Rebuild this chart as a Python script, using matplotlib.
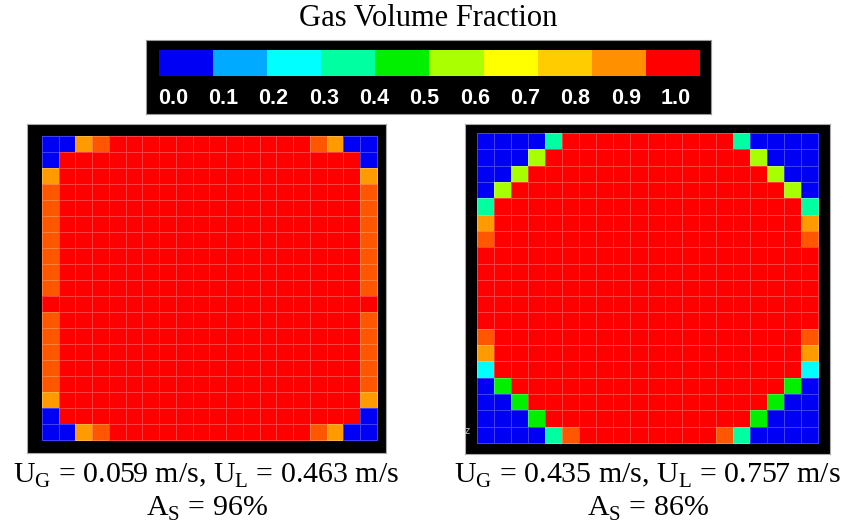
import matplotlib
matplotlib.use("Agg")
import matplotlib.pyplot as plt
import numpy as np
from matplotlib.colors import ListedColormap, LinearSegmentedColormap

plt.rcParams['font.family'] = 'Liberation Serif'
plt.rcParams['mathtext.fontset'] = 'custom'
plt.rcParams['mathtext.rm'] = 'Liberation Serif'

# colour legend (10 bands)
bar_colors = ['#0000f5', '#00aaff', '#00ffff', '#00ffa0', '#00f000',
              '#aaff00', '#ffff00', '#ffcc00', '#ff9000', '#ff0000']
bar_ticks = ['0.0', '0.1', '0.2', '0.3', '0.4', '0.5',
             '0.6', '0.7', '0.8', '0.9', '1.0']

# gas fraction (codes -> value)
code_value = {'B': 0.03, 'C': 0.25, 'T': 0.35, 'G': 0.45, 'L': 0.55,
              'Y': 0.83, 'O': 0.89, 'R': 1.0}

left_rows = (['BBYO' + 'R' * 12 + 'OYBB',
              'B' + 'R' * 18 + 'B',
              'Y' + 'R' * 18 + 'Y']
             + ['O' + 'R' * 18 + 'O'] * 7
             + ['R' * 20]
             + ['O' + 'R' * 18 + 'O'] * 5
             + ['Y' + 'R' * 18 + 'Y',
                'B' + 'R' * 18 + 'B',
                'BBYO' + 'R' * 12 + 'OYBB'])

right_rows = (['BBBBT' + 'R' * 10 + 'TBBBB',
               'BBBL' + 'R' * 12 + 'LBBB',
               'BBL' + 'R' * 14 + 'LBB',
               'BL' + 'R' * 16 + 'LB',
               'T' + 'R' * 18 + 'T',
               'Y' + 'R' * 18 + 'Y',
               'O' + 'R' * 18 + 'O']
              + ['R' * 20] * 5
              + ['O' + 'R' * 18 + 'O',
                 'Y' + 'R' * 18 + 'Y',
                 'C' + 'R' * 18 + 'C',
                 'BG' + 'R' * 16 + 'GB',
                 'BBG' + 'R' * 14 + 'GBB',
                 'BBBG' + 'R' * 12 + 'GBBB',
                 'BBBBTO' + 'R' * 8 + 'OTBBBB'])

left_label = [r"U$_{\mathrm{G}}$ = 0.059 m/s, U$_{\mathrm{L}}$ = 0.463 m/s",
              r"A$_{\mathrm{S}}$ = 96%"]
right_label = [r"U$_{\mathrm{G}}$ = 0.435 m/s, U$_{\mathrm{L}}$ = 0.757 m/s",
               r"A$_{\mathrm{S}}$ = 86%"]


def to_grid(rows):
    return np.array([[code_value[c] for c in r] for r in rows])


# continuous version of the legend colours for the cells
nodes = [0.0] + list(np.arange(10) * 0.1 + 0.05) + [1.0]
node_cols = [bar_colors[0]] + bar_colors + [bar_colors[-1]]
cell_cmap = LinearSegmentedColormap.from_list('gvf', list(zip(nodes, node_cols)))

W, H = 845, 524
fig = plt.figure(figsize=(W / 100, H / 100), dpi=100)


def px_axes(x0, y0, x1, y1):
    return fig.add_axes([x0 / W, 1 - y1 / H, (x1 - x0) / W, (y1 - y0) / H])


# title + colour bar
fig.text(428 / W, 1 - 19 / H, 'Gas Volume Fraction', ha='center', va='center',
         fontsize=22, color='black')
box = px_axes(146, 40, 711, 114)
box.set_facecolor('black')
box.set_xticks([])
box.set_yticks([])
for s in box.spines.values():
    s.set_color('#999999')
    s.set_linewidth(0.8)
strip = px_axes(159, 50, 700, 76)
strip.imshow(np.arange(10)[None, :], cmap=ListedColormap(bar_colors),
             aspect='auto', interpolation='nearest')
strip.axis('off')
for xp, t in zip(np.linspace(173, 676, len(bar_ticks)), bar_ticks):
    fig.text(xp / W, 1 - 98 / H, t, ha='center', va='center', color='white',
             fontsize=15.5, fontweight='bold', family='Liberation Sans')


def panel(frame, grid_px, vals, label):
    fx0, fy0, fx1, fy1 = frame
    gx0, gy0, gx1, gy1 = grid_px
    nr, nc = vals.shape
    ax = px_axes(fx0, fy0, fx1, fy1)
    ax.set_facecolor('black')
    cw = (gx1 - gx0) / nc
    ch = (gy1 - gy0) / nr
    ax.pcolormesh(np.arange(nc + 1), np.arange(nr + 1), vals, cmap=cell_cmap,
                  vmin=0, vmax=1, edgecolors=(1, 1, 1, 0.25), linewidth=0.6)
    ax.set_xlim(-(gx0 - fx0) / cw, nc + (fx1 - gx1) / cw)
    ax.set_ylim(nr + (fy1 - gy1) / ch, -(gy0 - fy0) / ch)
    ax.set_xticks([])
    ax.set_yticks([])
    for s in ax.spines.values():
        s.set_color('#aaaaaa')
        s.set_linewidth(0.8)
    cx = (fx0 + fx1) / 2 / W
    fig.text(cx, 1 - 483 / H, label[0], ha='center', va='baseline', fontsize=21.5)
    fig.text(cx, 1 - 516 / H, label[1], ha='center', va='baseline', fontsize=21.5)
    return ax


panel((27, 124, 386, 453), (42, 136, 377, 440), to_grid(left_rows), left_label)
panel((465, 124, 830, 454), (477, 133, 818, 443), to_grid(right_rows), right_label)
fig.text(467 / W, 1 - 431 / H, 'z', color='#bbbbbb', fontsize=7,
         family='DejaVu Sans', ha='center', va='center')

fig.savefig('out.png', dpi=100, facecolor='white')
